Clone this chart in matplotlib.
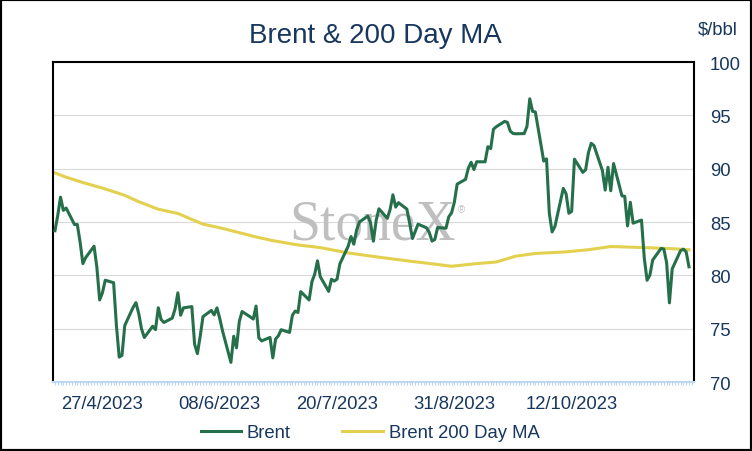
import numpy as np
import pandas as pd
import matplotlib
matplotlib.use("Agg")
import matplotlib.pyplot as plt
import matplotlib.dates as mdates
from matplotlib.patches import Rectangle

plt.rcParams['font.family'] = ['Liberation Sans', 'DejaVu Sans']

# --- data ---
brent_start, brent_end = '2023-04-10', '2023-11-23'
brent = [
    84.18, 85.61, 87.33, 86.09, 86.31,
    84.76, 84.77, 83.12, 81.10, 81.66,
    82.73, 80.77, 77.69, 78.37, 79.54,
    79.31, 75.32, 72.33, 72.50, 75.30,
    77.01, 77.44, 76.41, 74.98, 74.17,
    75.23, 74.91, 76.96, 75.86, 75.58,
    75.99, 76.84, 78.36, 76.26, 76.95,
    77.07, 73.54, 72.66, 74.28, 76.13,
    76.71, 76.29, 76.95, 75.96, 74.79,
    71.84, 74.29, 73.20, 75.67, 76.61,
    76.09, 75.90, 77.12, 74.14, 73.85,
    74.18, 72.26, 74.03, 74.34, 74.90,
    74.65, 76.25, 76.65, 76.52, 78.47,
    77.69, 79.40, 80.11, 81.36, 79.87,
    78.50, 79.63, 79.46, 79.64, 81.07,
    82.74, 83.64, 82.92, 84.24, 84.99,
    85.56, 84.91, 83.20, 85.14, 86.24,
    85.34, 86.17, 87.55, 86.40, 86.81,
    86.21, 84.89, 83.45, 84.12, 84.80,
    84.46, 84.03, 83.21, 83.36, 84.48,
    84.42, 85.49, 85.86, 86.86, 88.55,
    89.00, 90.04, 90.60, 89.92, 90.65,
    90.64, 92.06, 91.88, 93.70, 93.93,
    94.43, 94.34, 93.53, 93.30, 93.27,
    93.29, 93.96, 96.55, 95.38, 95.31,
    90.71, 90.92, 85.81, 84.07, 84.58,
    88.15, 87.65, 85.82, 86.00, 90.89,
    89.65, 89.90, 91.50, 92.38, 92.16,
    89.83, 87.99, 90.13, 87.93, 90.48,
    87.45, 87.41, 84.63, 86.85, 84.89,
    85.18, 81.61, 79.54, 80.01, 81.43,
    82.52, 82.47, 81.18, 77.42, 80.61,
    82.32, 82.45, 82.20, 80.80,
]

ma_dates = ['2023-04-10', '2023-04-14', '2023-04-20', '2023-04-28', '2023-05-05',
            '2023-05-10', '2023-05-17', '2023-05-24', '2023-06-02', '2023-06-09',
            '2023-06-15', '2023-06-21', '2023-06-27', '2023-07-06', '2023-07-14',
            '2023-07-24', '2023-08-04', '2023-08-16', '2023-08-24', '2023-08-30',
            '2023-09-08', '2023-09-15', '2023-09-22', '2023-09-29', '2023-10-10',
            '2023-10-18', '2023-10-26', '2023-11-07', '2023-11-17', '2023-11-23']
ma200 = [89.6, 89.2, 88.7, 88.1, 87.5,
         86.9, 86.2, 85.8, 84.8, 84.4,
         84.0, 83.6, 83.25, 82.85, 82.6,
         82.1, 81.7, 81.3, 81.05, 80.85,
         81.1, 81.25, 81.8, 82.05, 82.2,
         82.4, 82.7, 82.6, 82.5, 82.4]

tick_dates = ['2023-04-27', '2023-06-08', '2023-07-20', '2023-08-31', '2023-10-12']
tick_labels = ['27/4/2023', '08/6/2023', '20/7/2023', '31/8/2023', '12/10/2023']
y_ticks = [70, 75, 80, 85, 90, 95, 100]

navy = '#17375E'
green = '#25704B'
yellow = '#E3D04E'
light_blue = '#BDD7EE'

brent_dates = pd.bdate_range(brent_start, brent_end)

fig = plt.figure(figsize=(7.52, 4.52), dpi=100)
ax = fig.add_axes([53 / 752, 1 - 383 / 452, 641 / 752, 320 / 452])

ax.plot(brent_dates, brent, color=green, lw=2.2, label='Brent', zorder=3)
ax.plot(pd.to_datetime(ma_dates), ma200, color=yellow, lw=2.2, label='Brent 200 Day MA', zorder=2)

# watermark
ax.text(0.498, 0.447, 'StoneX', transform=ax.transAxes, fontsize=40, color='#BFBFBF',
        family='Liberation Serif', ha='center', va='baseline', zorder=1)
ax.text(0.637, 0.54, '\u00ae', transform=ax.transAxes, fontsize=7, color='#BFBFBF',
        ha='center', va='center', zorder=1)

x0 = mdates.date2num(pd.Timestamp(brent_start)) - 0.7
x1 = mdates.date2num(pd.Timestamp(brent_end)) + 1.8
ax.set_xlim(x0, x1)
ax.set_ylim(70, 100)

ax.yaxis.tick_right()
ax.set_yticks(y_ticks)
ax.tick_params(axis='y', length=0, pad=11.5, labelsize=13.3, labelcolor=navy)
ax.grid(axis='y', color='#D9D9D9', lw=0.8, zorder=0)
ax.set_axisbelow(True)

ax.set_xticks(pd.to_datetime(tick_dates))
ax.set_xticklabels(tick_labels)
ax.xaxis.set_minor_locator(mdates.DayLocator())
ax.tick_params(axis='x', which='both', length=2.5, width=0.8, color=light_blue,
               direction='out', pad=7, labelsize=13.3, labelcolor=navy)

for side in ['top', 'left', 'right']:
    ax.spines[side].set_color('black')
    ax.spines[side].set_linewidth(1.5)
ax.spines['bottom'].set_color(light_blue)
ax.spines['bottom'].set_linewidth(1.5)

fig.text(375 / 752, 1 - 43 / 452, 'Brent & 200 Day MA', ha='center', va='baseline',
         fontsize=20, color=navy)
fig.text(698 / 752, 1 - 30 / 452, '$/bbl', ha='left', va='center', fontsize=13.3, color=navy)

ax.legend(loc='center', bbox_to_anchor=(370 / 752, 1 - 434 / 452), bbox_transform=fig.transFigure,
          ncol=2, frameon=False, fontsize=13.3, handlelength=2.2, handletextpad=0.3,
          columnspacing=2.8, labelcolor=navy)

fig.patches.append(Rectangle((0, 0), 1, 1, transform=fig.transFigure, fill=False,
                             edgecolor='black', lw=3))

fig.savefig('out.png', dpi=100)
